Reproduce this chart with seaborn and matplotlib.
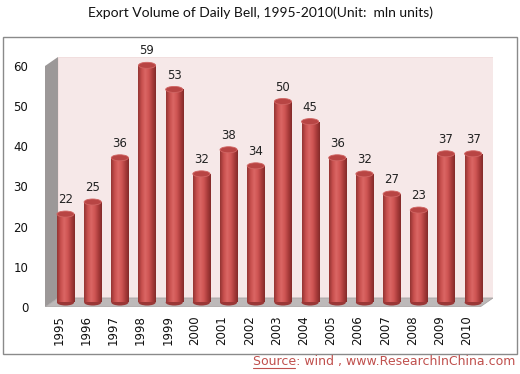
import numpy as np
import matplotlib
matplotlib.use("Agg")
import matplotlib.pyplot as plt
from matplotlib.colors import LinearSegmentedColormap
from matplotlib.patches import Ellipse, Polygon, Rectangle
from matplotlib.textpath import TextPath
import seaborn as sns

years = [str(y) for y in range(1995, 2011)]
volume = [22, 25, 36, 59, 53, 32, 38, 34, 50, 45, 36, 32, 27, 23, 37, 37]
yticks = [0, 10, 20, 30, 40, 50, 60]

title = "Export Volume of Daily Bell, 1995-2010(Unit:  mln units)"
source = "Source: wind , www.ResearchInChina.com"

sns.set_theme(style="white")
plt.rcParams["font.family"] = ["DejaVu Sans"]

fig = plt.figure(figsize=(5.2, 3.74), dpi=100)
W, H = 520, 374
ax = fig.add_axes([45 / W, (H - 307) / H, 448 / W, 250 / H])

# half of the 3d depth, in data units
dx, dy = 0.239, 1.12
x0, x1 = -0.755, 15.73
y0, y1 = -1.12, 61.07

# walls and floor
ax.add_patch(Polygon([(x0 + 2 * dx, dy), (x1, dy), (x1, y1), (x0 + 2 * dx, y1)],
                     closed=True, fc="#f6e8e8", ec="#f0dada", lw=0.6, zorder=0))
ax.add_patch(Polygon([(x0, -dy), (x0 + 2 * dx, dy), (x0 + 2 * dx, y1), (x0, y1 - 2 * dy)],
                     closed=True, fc="#9c9898", ec="none", zorder=0))
ax.add_patch(Polygon([(x0, -dy), (x1 - 2 * dx, -dy), (x1, dy), (x0 + 2 * dx, dy)],
                     closed=True, fc="#bdb9b9", ec="#a9a5a5", lw=0.6, zorder=0.5))

bw = 0.63
sns.barplot(x=years, y=volume, width=bw, color="#c44d4b", saturation=1,
            ax=ax, zorder=2, linewidth=0)

# cylinder shading
cmap = LinearSegmentedColormap.from_list(
    "cyl", ["#943433", "#c74f4d", "#db6664", "#cf5654", "#ab3d3c", "#832a29"])
grad = np.linspace(0, 1, 64).reshape(1, -1)
eh = 1.5
for p, v in zip(ax.patches[-len(volume):], volume):
    bx = p.get_x()
    im = ax.imshow(grad, cmap=cmap, extent=[bx, bx + bw, 0, v], aspect="auto",
                   zorder=2.1, interpolation="bilinear")
    im.set_clip_path(p)
    ax.add_patch(Ellipse((bx + bw / 2, 0), bw, eh, fc="#9a3736", ec="none", zorder=1.9))
    ax.add_patch(Ellipse((bx + bw / 2, v), bw, eh, fc="#b84544", ec="#d06563",
                         lw=0.6, zorder=2.3))
    ax.annotate(str(v), (bx + bw / 2, v + eh / 2), xytext=(0, 3.5),
                textcoords="offset points", ha="center", va="bottom",
                fontsize=8.5, color="#222222")

ax.set_xlim(x0, x1)
ax.set_ylim(y0, y1)
ax.set_xticks(np.arange(len(years)) - dx, labels=years, rotation=90, fontsize=8.5)
ax.set_yticks(np.array(yticks) - dy, labels=yticks, fontsize=8.5)
ax.tick_params(axis="x", length=0, pad=6, colors="#111111")
ax.tick_params(axis="y", length=0, pad=12, colors="#111111")
ax.set_xlabel("")
ax.set_ylabel("")
for s in ax.spines.values():
    s.set_visible(False)
ax.set_facecolor("none")

fig.add_artist(Rectangle((3 / W, (H - 354) / H), 514 / W, 317 / H,
                         transform=fig.transFigure, fill=False, ec="#8a8a8a", lw=1))
fig.text(0.5, 1 - 13 / H, title, ha="center", va="center", fontsize=10,
         family="Lato", color="#111111")
src = fig.text(515 / W, 1 - 362 / H, source, ha="right", va="center",
               fontsize=9, color="#c0504d")

# underline "Source"
fig.canvas.draw()
bb = src.get_window_extent()
frac = TextPath((0, 0), "Source", size=9).get_extents().width / \
    TextPath((0, 0), source, size=9).get_extents().width
fig.add_artist(plt.Line2D([bb.x0 / W, (bb.x0 + bb.width * frac) / W],
                          [bb.y0 / H + 0.002] * 2,
                          transform=fig.transFigure, color="#c0504d", lw=0.8))

fig.savefig("out.png", dpi=100)
